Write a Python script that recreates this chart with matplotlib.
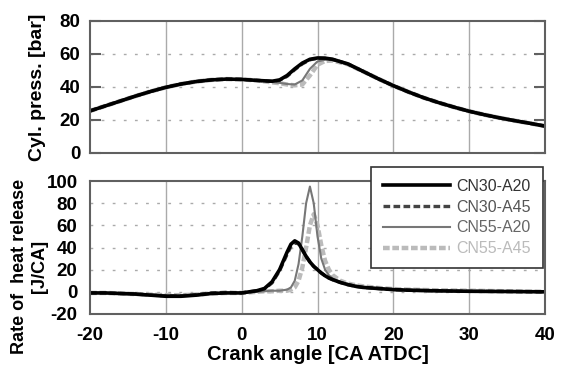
import numpy as np
import matplotlib
matplotlib.use('Agg')
import matplotlib.pyplot as plt

plt.rcParams['font.family'] = ['Liberation Sans', 'DejaVu Sans']
plt.rcParams['axes.unicode_minus'] = False

# ---------- data ----------
labels = ['CN30-A20', 'CN30-A45', 'CN55-A20', 'CN55-A45']

# cylinder pressure [bar]
ca_p = [-20, -18, -16, -14, -12, -10, -8, -6, -4, -2, 0, 2, 4, 5, 6, 7, 8, 9, 10, 11, 12,
        14, 16, 18, 20, 22, 24, 26, 28, 30, 32, 34, 36, 38, 40]
p_cn30_a20 = [25.5, 28.5, 31.5, 34.5, 37.3, 39.8, 41.8, 43.3, 44.3, 44.8, 44.6, 44.0, 43.5,
              44.3, 47.0, 51.0, 54.5, 56.8, 57.6, 57.5, 56.8, 54.0, 49.5, 45.0, 40.8, 37.0,
              33.5, 30.5, 27.8, 25.3, 23.2, 21.3, 19.6, 18.0, 16.3]
p_cn30_a45 = [25.5, 28.5, 31.5, 34.5, 37.3, 39.8, 41.8, 43.3, 44.3, 44.8, 44.6, 44.0, 43.4,
              44.0, 46.5, 50.5, 54.0, 56.5, 57.4, 57.3, 56.7, 54.0, 49.5, 45.0, 40.8, 37.0,
              33.5, 30.5, 27.8, 25.3, 23.2, 21.3, 19.6, 18.0, 16.3]
p_cn55_a20 = [25.5, 28.5, 31.5, 34.5, 37.3, 39.8, 41.8, 43.3, 44.3, 44.8, 44.6, 44.0, 43.0,
              42.5, 41.8, 41.5, 44.0, 51.0, 55.5, 56.5, 56.3, 53.8, 49.5, 45.0, 40.8, 37.0,
              33.5, 30.5, 27.8, 25.3, 23.2, 21.3, 19.6, 18.0, 16.3]
p_cn55_a45 = [25.5, 28.5, 31.5, 34.5, 37.3, 39.8, 41.8, 43.3, 44.3, 44.8, 44.6, 44.0, 42.8,
              42.3, 41.5, 41.0, 41.5, 47.0, 53.5, 55.8, 56.0, 53.8, 49.5, 45.0, 40.8, 37.0,
              33.5, 30.5, 27.8, 25.3, 23.2, 21.3, 19.6, 18.0, 16.3]

# rate of heat release [J/CA]
ca_h = [-20, -18, -16, -14, -12, -10, -8, -6, -4, -2, 0, 1, 2, 3, 4, 5, 6, 6.5, 7, 7.5, 8,
        8.5, 9, 9.5, 10, 10.5, 11, 11.5, 12, 13, 14, 15, 16, 18, 20, 22, 25, 30, 35, 40]
h_cn30_a20 = [-1, -1, -1.5, -2, -3, -4, -4, -3, -1.5, -1, -1, 0, 1, 3, 9, 20, 36, 43, 46, 44,
              38, 32, 27, 23, 20, 17, 14.5, 12.5, 11, 8.5, 6.5, 5, 4, 3, 2, 1.5, 1, 0.5, 0.3, 0]
h_cn30_a45 = [-1, -1, -1.5, -2, -3, -3.5, -3.5, -2.5, -1, -0.5, -1, 0, 1, 2.5, 8, 19, 34, 41,
              44, 43.5, 38, 32, 27, 23, 20, 17, 14.5, 12.5, 11, 8.5, 6.5, 5, 4, 3, 2, 1.5, 1,
              0.5, 0.3, 0]
h_cn55_a20 = [-1, -1, -1.5, -2, -2.5, -3, -3, -2.5, -1.5, -1, -1, -0.5, 0, 0.5, 1, 1, 2, 4,
              10, 25, 50, 80, 95, 80, 50, 30, 20, 15, 12, 9, 7, 5.5, 4.5, 3, 2, 1.5, 1, 0.5,
              0.3, 0]
h_cn55_a45 = [-1, -1, -1.5, -2, -2.5, -3, -3, -2.5, -1.5, -1, -1, -0.5, 0, 0.5, 0.5, 1, 1, 2,
              4, 10, 22, 40, 60, 70, 60, 42, 28, 20, 15, 10, 7.5, 6, 5, 3.5, 2.5, 2, 1.5, 1,
              0.5, 0]

x_ticks = [-20, -10, 0, 10, 20, 30, 40]

# ---------- style ----------
styles = [dict(color='black', lw=2.6, ls='-'),
          dict(color='#444444', lw=2.4, ls=(0, (2, 1))),
          dict(color='#777777', lw=1.5, ls='-'),
          dict(color='#bbbbbb', lw=3.2, ls=(0, (1.5, 0.6)))]
text_colors = ['#333333', '#555555', '#666666', '#bbbbbb']
spine_c = '#606060'
FS = 13.5

fig = plt.figure(figsize=(5.65, 3.65), dpi=100)
ax1 = fig.add_axes([90 / 565, 1 - 153 / 365, 455 / 565, 132 / 365])
ax2 = fig.add_axes([90 / 565, 1 - 314 / 365, 455 / 565, 133 / 365])


def style_ax(ax, ylim, yticks, hgrid):
    ax.set_xlim(-20, 40)
    ax.set_ylim(*ylim)
    ax.set_xticks(x_ticks)
    ax.set_yticks(yticks)
    for x in x_ticks[1:-1]:
        ax.axvline(x, color='#aaaaaa', lw=1.0, zorder=0)
    for y in hgrid:
        ax.axhline(y, color='#aaaaaa', lw=1.0, ls=(0, (2, 6)), zorder=0)
    for s in ax.spines.values():
        s.set_color(spine_c)
        s.set_linewidth(1.5)
    ax.tick_params(axis='x', length=0, labelsize=FS, pad=9)
    ax.tick_params(axis='y', direction='in', length=8, width=1.5, color=spine_c,
                   labelsize=FS, right=True, pad=7)
    for t in ax.get_xticklabels() + ax.get_yticklabels():
        t.set_fontweight('bold')


style_ax(ax1, (0, 80), [0, 20, 40, 60, 80], [20, 40, 60])
ax1.set_xticklabels([])
style_ax(ax2, (-20, 100), [-20, 0, 20, 40, 60, 80, 100], [0, 20, 40, 60, 80])
ax2.tick_params(axis='y', right=False, length=0, pad=9)

pres = [p_cn30_a20, p_cn30_a45, p_cn55_a20, p_cn55_a45]
hrr = [h_cn30_a20, h_cn30_a45, h_cn55_a20, h_cn55_a45]
handles = []
for i in [3, 2, 1, 0]:
    ax1.plot(ca_p, pres[i], **styles[i])
for i in [3, 2, 1, 0]:
    ax2.plot(ca_h, hrr[i], **styles[i])
for i in range(4):
    handles.append(plt.Line2D([], [], **styles[i]))

ax1.set_ylabel('Cyl. press. [bar]', fontsize=14, fontweight='bold', labelpad=10)
ax2.set_ylabel('Rate of  heat release\n[J/CA]', fontsize=13, fontweight='bold',
               linespacing=1.25)
ax2.yaxis.set_label_coords(-0.092, 0.36)
ax2.set_xlabel('Crank angle [CA ATDC]', fontsize=14.5, fontweight='bold', labelpad=1)

leg = fig.legend(handles, labels, loc='upper right', bbox_to_anchor=(543 / 565, 1 - 167 / 365),
                 fontsize=11.5, handlelength=4.2, handletextpad=0.4, borderpad=0.75,
                 labelspacing=0.36, fancybox=False, framealpha=1, edgecolor='#333333',
                 borderaxespad=0)
leg.get_frame().set_linewidth(1.2)
for t, c in zip(leg.get_texts(), text_colors):
    t.set_color(c)

fig.savefig('out.png', dpi=100)
